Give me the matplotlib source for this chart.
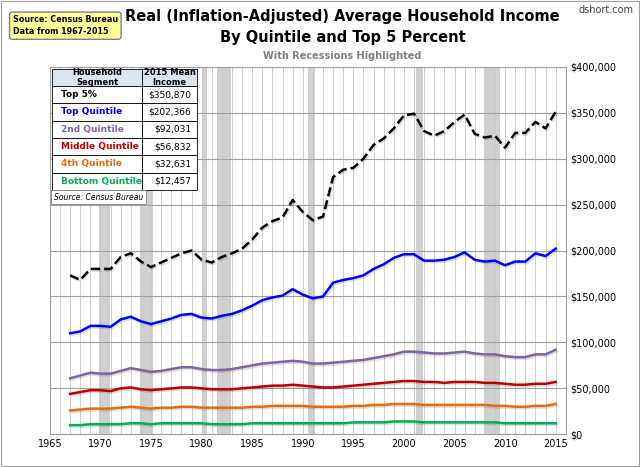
import matplotlib
matplotlib.use("Agg")
import matplotlib.pyplot as plt
import matplotlib.patheffects as pe
import numpy as np

years = np.arange(1967, 2016)
top5 = [173, 168, 180, 180, 180, 193, 197, 188, 182, 187, 192, 197, 200, 190, 187, 193, 197, 202,
        212, 225, 232, 236, 255, 242, 233, 237, 280, 288, 290, 300, 315, 322, 333, 347, 349, 330,
        325, 330, 340, 348, 327, 323, 325, 312, 328, 328, 340, 333, 351]
top_q = [110, 112, 118, 118, 117, 125, 128, 123, 120, 123, 126, 130, 131, 127, 126, 129, 131, 135,
         140, 146, 149, 151, 158, 152, 148, 150, 165, 168, 170, 173, 180, 185, 192, 196, 196, 189,
         189, 190, 193, 198, 190, 188, 189, 184, 188, 188, 197, 194, 202]
second_q = [61, 64, 67, 66, 66, 69, 72, 70, 68, 69, 71, 73, 73, 71, 70, 70, 71, 73, 75, 77, 78, 79,
            80, 79, 77, 77, 78, 79, 80, 81, 83, 85, 87, 90, 90, 89, 88, 88, 89, 90, 88, 87, 87, 85,
            84, 84, 87, 87, 92]
middle_q = [44, 46, 48, 48, 47, 50, 51, 49, 48, 49, 50, 51, 51, 50, 49, 49, 49, 50, 51, 52, 53, 53,
            54, 53, 52, 51, 51, 52, 53, 54, 55, 56, 57, 58, 58, 57, 57, 56, 57, 57, 57, 56, 56, 55,
            54, 54, 55, 55, 57]
fourth_q = [26, 27, 28, 28, 28, 29, 30, 29, 28, 29, 29, 30, 30, 29, 29, 29, 29, 29, 30, 30, 31, 31,
            31, 31, 30, 30, 30, 30, 31, 31, 32, 32, 33, 33, 33, 32, 32, 32, 32, 32, 32, 32, 31, 31,
            30, 30, 31, 31, 33]
bottom_q = [10, 10, 11, 11, 11, 11, 12, 12, 11, 12, 12, 12, 12, 12, 11, 11, 11, 11, 12, 12, 12, 12,
            12, 12, 12, 12, 12, 12, 13, 13, 13, 13, 14, 14, 14, 13, 13, 13, 13, 13, 13, 13, 13, 12,
            12, 12, 12, 12, 12]
recessions = [(1969.9, 1970.9), (1973.9, 1975.2), (1980.0, 1980.5), (1981.5, 1982.9),
              (1990.5, 1991.2), (2001.2, 2001.9), (2007.9, 2009.5)]

segments = ["Top 5%", "Top Quintile", "2nd Quintile", "Middle Quintile", "4th Quintile", "Bottom Quintile"]
means_2015 = ["$350,870", "$202,366", "$92,031", "$56,832", "$32,631", "$12,457"]
colors = ["black", "#0000ff", "#8064a2", "#c00000", "#e46c0a", "#00b050"]
series = [top5, top_q, second_q, middle_q, fourth_q, bottom_q]

fig = plt.figure(figsize=(6.4, 4.67), dpi=100)
ax = fig.add_axes([0.078, 0.07, 0.806, 0.787])

for a, b in recessions:
    ax.axvspan(a, b, color="#d0d0d0", zorder=0, lw=0)
for yr in range(1965, 2017):
    ax.axvline(yr, color="#c8c8c8", lw=0.6, zorder=0.5)
for v in range(0, 400001, 50000):
    ax.axhline(v, color="#a0a0a0", lw=0.8, zorder=0.5)

shadow = [pe.SimpleLineShadow(offset=(1, -1.2), alpha=0.12), pe.Normal()]
for s, c in zip(series, colors):
    ls = "--" if c == "black" else "-"
    ax.plot(years, np.array(s) * 1000, color=c, lw=1.8, ls=ls, zorder=3, path_effects=shadow)

ax.set_xlim(1965, 2016)
ax.set_ylim(0, 400000)
ax.set_xticks(range(1965, 2016, 5))
ax.set_yticks(range(0, 400001, 50000))
ax.yaxis.tick_right()
ax.set_yticklabels(["$0"] + [f"${v:,}" for v in range(50000, 400001, 50000)])
ax.tick_params(labelsize=7, length=0)
for sp in ax.spines.values():
    sp.set_color("#a0a0a0")

# table
rows = [[s, m] for s, m in zip(segments, means_2015)]
tb = ax.table(cellText=rows, colLabels=["Household\nSegment", "2015 Mean\nIncome"],
              cellLoc="left", bbox=[0.005, 0.665, 0.28, 0.33], colWidths=[0.62, 0.38], zorder=5)
tb.auto_set_font_size(False)
tb.set_fontsize(6.5)
for (r, c), cell in tb.get_celld().items():
    cell.set_linewidth(0.6)
    if r == 0:
        cell.set_facecolor("#dce6f1")
        cell.get_text().set_ha("center")
        cell.get_text().set_fontweight("bold")
        cell.get_text().set_fontsize(6)
        cell._loc = "center"
    else:
        cell.set_facecolor("white")
        if c == 0:
            cell.get_text().set_color(colors[r - 1])
            cell.get_text().set_fontweight("bold")
        else:
            cell.get_text().set_ha("right")
            cell._loc = "right"
ax.text(0.008, 0.645, "Source: Census Bureau", transform=ax.transAxes, fontsize=5.5,
        style="italic", va="center", zorder=6,
        bbox=dict(facecolor="white", edgecolor="#808080", lw=0.6, boxstyle="square,pad=0.35"))

fig.text(0.535, 0.965, "Real (Inflation-Adjusted) Average Household Income", ha="center",
         va="center", fontsize=10.5, fontweight="bold")
fig.text(0.535, 0.92, "By Quintile and Top 5 Percent", ha="center", va="center",
         fontsize=10.5, fontweight="bold")
fig.text(0.535, 0.88, "With Recessions Highlighted", ha="center", va="center",
         fontsize=7, color="#808080", fontweight="bold")
fig.text(0.99, 0.978, "dshort.com", ha="right", va="center", fontsize=7, color="#404040")
fig.text(0.02, 0.945, "Source: Census Bureau\nData from 1967-2015", ha="left", va="center",
         fontsize=5.8, fontweight="bold", linespacing=1.4,
         bbox=dict(facecolor="#ffff99", edgecolor="#808080", boxstyle="round,pad=0.4"))
fig.patches.append(plt.Rectangle((0.002, 0.002), 0.996, 0.996, transform=fig.transFigure,
                                 fill=False, edgecolor="#a0a0a0", lw=0.8))

fig.savefig("out.png", dpi=100)
